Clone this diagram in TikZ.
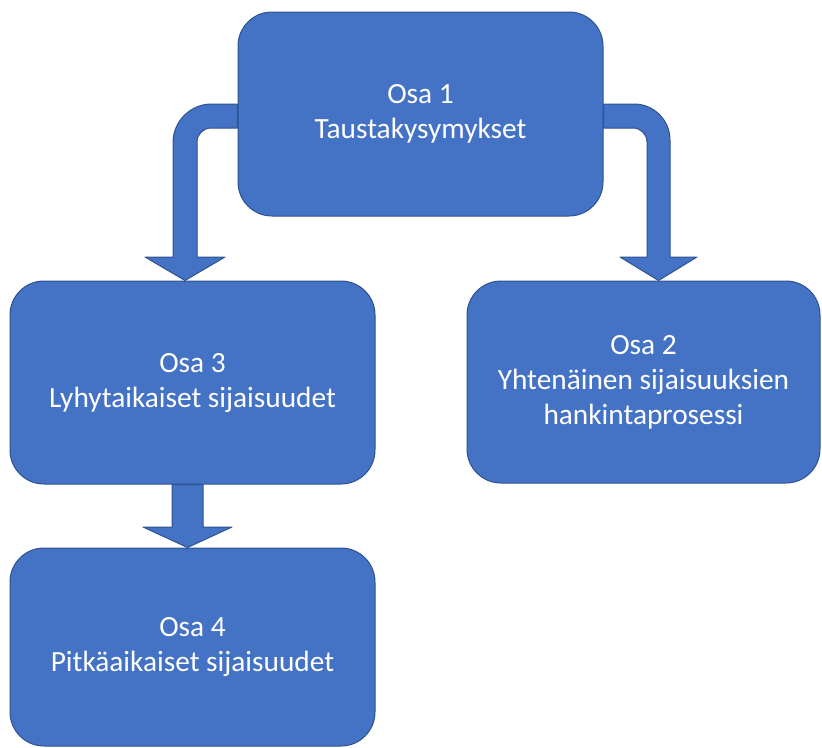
\documentclass[tikz,border=0pt]{standalone}
\usepackage{fontspec}
\setmainfont{Carlito}
\pgfdeclarelayer{edgelayer}
\pgfdeclarelayer{nodelayer}
\pgfsetlayers{edgelayer,nodelayer,main}
\definecolor{osafill}{HTML}{4472C4}
\definecolor{osaline}{HTML}{2F528F}
\tikzstyle{part}=[rectangle,rounded corners=25.5pt,fill=osafill,draw=osaline,line width=0.75pt,text=white,align=center,inner sep=0pt,font=\fontsize{22}{26.25}\selectfont]
\tikzstyle{blockarrow}=[fill=osafill,draw=osaline,line width=0.75pt,line join=round]

\begin{document}
\begin{tikzpicture}[x=0.75pt,y=-0.75pt]
	\useasboundingbox (0,0) rectangle (822,747);
	\begin{pgfonlayer}{nodelayer}
		\node [style=part, minimum width=273.75pt, minimum height=153pt] (osa1) at (420.5, 114) {Osa 1\\Taustakysymykset};
		\node [style=part, minimum width=273.75pt, minimum height=152.25pt] (osa3) at (192.5, 382.5) {Osa 3\\Lyhytaikaiset sijaisuudet};
		\node [style=part, minimum width=264.75pt, minimum height=151.5pt] (osa2) at (643.5, 382) {Osa 2\\Yhtenäinen sijaisuuksien\\hankintaprosessi};
		\node [style=part, minimum width=273.75pt, minimum height=148.5pt] (osa4) at (192.5, 647) {Osa 4\\Pitkäaikaiset sijaisuudet};
	\end{pgfonlayer}
	\begin{pgfonlayer}{edgelayer}
		\draw [style=blockarrow] (osa1.west |- 0,104) [rounded corners=29pt] -- (173,104) [sharp corners] -- (173,257) -- (145,257) -- (osa3.north -| 185,0) -- (225,257) -- (197,257) [rounded corners=10.5pt] -- (197,128) [sharp corners] -- (osa1.west |- 0,128) -- cycle;
		\draw [style=blockarrow] (osa1.east |- 0,104) [rounded corners=27pt] -- (670,104) [sharp corners] -- (670,257) -- (697,257) -- (osa2.north -| 658.5,0) -- (620,257) -- (647,257) [rounded corners=10.5pt] -- (647,128) [sharp corners] -- (osa1.east |- 0,128) -- cycle;
		\draw [style=blockarrow] (osa3.south -| 172,0) -- (172,527) -- (143,527) -- (osa4.north -| 187.5,0) -- (232,527) -- (203,527) -- (osa3.south -| 203,0) -- cycle;
	\end{pgfonlayer}
\end{tikzpicture}
\end{document}
